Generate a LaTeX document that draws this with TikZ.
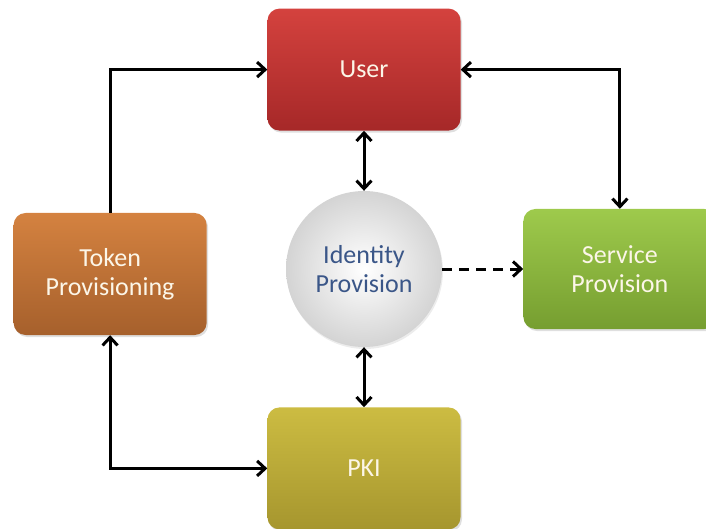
\documentclass[tikz,border=0pt]{standalone}
\usepackage{fontspec}
\setmainfont{Carlito}
\usetikzlibrary{arrows.meta, positioning, shadows}
\definecolor{usertop}{RGB}{212, 66, 62}
\definecolor{userbot}{RGB}{166, 40, 40}
\definecolor{tokentop}{RGB}{212, 130, 64}
\definecolor{tokenbot}{RGB}{166, 96, 44}
\definecolor{servtop}{RGB}{158, 202, 76}
\definecolor{servbot}{RGB}{118, 158, 48}
\definecolor{pkitop}{RGB}{204, 188, 66}
\definecolor{pkibot}{RGB}{166, 150, 46}
\definecolor{idtext}{RGB}{58, 86, 136}
\definecolor{boxtext}{RGB}{252, 246, 232}

\begin{document}
\begin{tikzpicture}[
    x=1pt, y=-1pt,
    box/.style={rectangle, rounded corners=12pt, minimum width=193pt, minimum height=122pt, align=center,
        text=boxtext, font=\fontsize{26}{29}\selectfont, drop shadow={opacity=0.25, shadow xshift=1.5pt, shadow yshift=-2pt}},
    idcircle/.style={circle, minimum size=156pt, inner sep=0pt, align=center, shading=radial,
        inner color=white, outer color=black!17, text=idtext, font=\fontsize{26}{29}\selectfont,
        drop shadow={opacity=0.15, shadow xshift=1pt, shadow yshift=-2pt}},
    arrow/.style={-{Straight Barb[length=8pt, width=15pt]}, line width=3pt},
    twoway/.style={{Straight Barb[length=8pt, width=15pt]}-{Straight Barb[length=8pt, width=15pt]}, line width=3pt}
]
\useasboundingbox (0,0) rectangle (706,529);

% Centre
\node[idcircle] (idp) at (364,269) {Identity\\Provision};

% Boxes round it
\node[box, top color=usertop, bottom color=userbot, above=60pt of idp] (user) {User};
\node[box, top color=pkitop, bottom color=pkibot, below=60pt of idp] (pki) {PKI};
\node[box, top color=tokentop, bottom color=tokenbot, left=79pt of idp, yshift=-5pt] (token) {Token\\Provisioning};
\node[box, top color=servtop, bottom color=servbot, minimum height=120pt, right=81pt of idp] (service) {Service\\Provision};

% Connectors
\draw[arrow] (token.north) |- (user.west);
\draw[twoway] (user.east) -| (service.north);
\draw[twoway] (user.south) -- (idp.north);
\draw[twoway] (idp.south) -- (pki.north);
\draw[twoway] (token.south) |- (pki.west);
\draw[arrow, dash pattern=on 10pt off 7pt] (idp.east) -- (service.west);

\end{tikzpicture}
\end{document}
